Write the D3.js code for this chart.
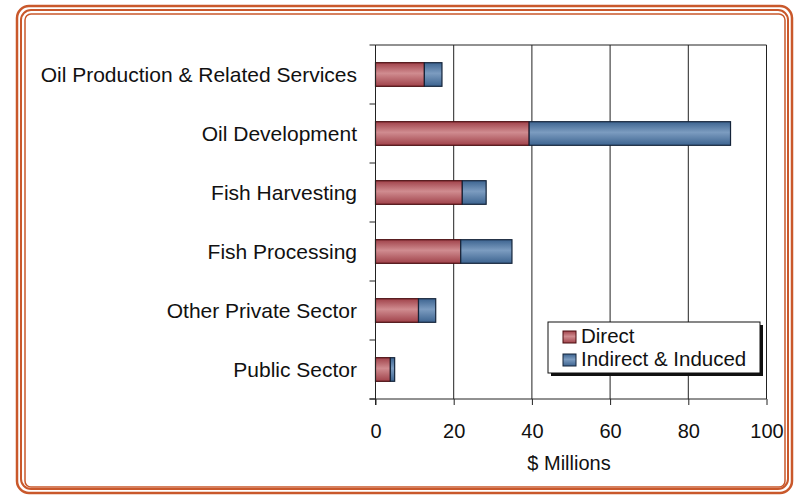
<!DOCTYPE html>
<html><head><meta charset="utf-8">
<script src="https://cdn.jsdelivr.net/npm/d3@7"></script>
<style>body{margin:0;background:#fff}svg{display:block}text{font-family:"Liberation Sans",Arial,sans-serif;fill:#111}</style>
</head><body><svg id="c" width="794" height="495"></svg>
<script>
const categories = ["Oil Production & Related Services","Oil Development","Fish Harvesting","Fish Processing","Other Private Sector","Public Sector"];
const direct = [12.5, 39.3, 22.2, 21.8, 11.0, 3.8];
const indirect = [4.5, 51.5, 6.1, 13.1, 4.4, 1.1];
const seriesNames = ["Direct","Indirect & Induced"];
const xTicks = [0,20,40,60,80,100];

const svg = d3.select("#c");
const defs = svg.append("defs");
function grad(id, edge, mid){
  const g = defs.append("linearGradient").attr("id",id).attr("x1",0).attr("y1",0).attr("x2",0).attr("y2",1);
  g.append("stop").attr("offset","0%").attr("stop-color",edge);
  g.append("stop").attr("offset","45%").attr("stop-color",mid);
  g.append("stop").attr("offset","100%").attr("stop-color",edge);
}
grad("gr","#a0424a","#d08c90");
grad("gb","#3d6490","#7c9cc0");
const fills = ["url(#gr)","url(#gb)"];
const strokes = ["#4a0d10","#14243a"];

// frame
const orange = "#c9582b";
[[17,6,775,487,2.5,12],[21,10,767,479,2,10],[25,14,760,473,1.5,6]].forEach(r=>{
  svg.append("rect").attr("x",r[0]).attr("y",r[1]).attr("width",r[2]).attr("height",r[3])
    .attr("rx",r[5]).attr("fill","none").attr("stroke",orange).attr("stroke-width",r[4]);
});

const m = {l:375.5, r:766.5, t:45, b:399};
const x = d3.scaleLinear().domain([0,100]).range([m.l,m.r]);
const y = d3.scaleBand().domain(categories).range([m.t,m.b]).paddingInner(0.6).paddingOuter(0.3);
const yb = d3.scaleBand().domain(categories).range([m.t,m.b]);

// gridlines
svg.append("g").selectAll("line").data(xTicks.slice(1)).join("line")
  .attr("x1",d=>x(d)).attr("x2",d=>x(d)).attr("y1",m.t).attr("y2",m.b)
  .attr("stroke","#222").attr("stroke-width",1);
svg.append("line").attr("x1",m.l).attr("x2",m.r).attr("y1",m.t).attr("y2",m.t).attr("stroke","#222");

// bars
const stackData = categories.map((c,i)=>({c, v:[direct[i], indirect[i]]}));
stackData.forEach(d=>{
  let x0 = 0;
  d.v.forEach((v,k)=>{
    svg.append("rect").attr("x",x(x0)).attr("y",y(d.c)).attr("width",x(x0+v)-x(x0)).attr("height",y.bandwidth())
      .attr("fill",fills[k]).attr("stroke",strokes[k]).attr("stroke-width",1.2);
    x0 += v;
  });
});

// x axis
const xa = svg.append("g").attr("transform",`translate(0,${m.b})`)
  .call(d3.axisBottom(x).tickValues(xTicks).tickSize(6).tickPadding(18.5));
xa.select(".domain").attr("stroke","#222").attr("d",`M${m.l-6},0H${m.r}`);
xa.selectAll(".tick line").attr("stroke","#222");
xa.selectAll("text").attr("font-size",20).attr("fill","#111").attr("font-family","Liberation Sans, Arial, sans-serif");

// y axis
svg.append("line").attr("x1",m.l).attr("x2",m.l).attr("y1",m.t).attr("y2",m.b+6).attr("stroke","#222");
const sep = categories.map(c=>yb(c)).concat([m.b]);
svg.append("g").selectAll("line").data(sep).join("line")
  .attr("x1",m.l-6).attr("x2",m.l).attr("y1",d=>d).attr("y2",d=>d).attr("stroke","#222");
svg.append("g").selectAll("text").data(categories).join("text")
  .attr("x",357).attr("y",d=>yb(d)+yb.bandwidth()/2).attr("dy","0.36em")
  .attr("text-anchor","end").attr("font-size",21).text(d=>d);

svg.append("text").attr("x",569).attr("y",470).attr("text-anchor","middle").attr("font-size",20).text("$ Millions");

// legend
const lg = svg.append("g").attr("transform","translate(548,322)");
lg.append("rect").attr("x",3).attr("y",3).attr("width",212).attr("height",51).attr("fill","#111");
lg.append("rect").attr("x",0).attr("y",0).attr("width",212).attr("height",51).attr("fill","#fff").attr("stroke","#111").attr("stroke-width",1);
seriesNames.forEach((n,k)=>{
  lg.append("rect").attr("x",15).attr("y",9+k*23).attr("width",13).attr("height",12)
    .attr("fill",fills[k]).attr("stroke",strokes[k]).attr("stroke-width",1);
  lg.append("text").attr("x",33).attr("y",21+k*22.5).attr("font-size",20.5).text(n);
});
</script></body></html>
